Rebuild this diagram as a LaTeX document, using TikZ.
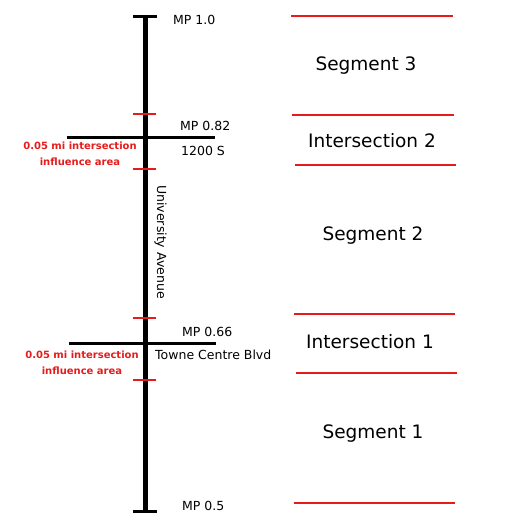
\documentclass[tikz,border=0pt]{standalone}
\usepackage{fontspec}
\setmainfont{DejaVu Sans}
\usetikzlibrary{positioning}
\definecolor{zonered}{RGB}{230,28,28}

\begin{document}
\begin{tikzpicture}[x=1pt, y=-1pt,
    road/.style={line width=3pt},
    zonetick/.style={zonered, line width=2.8pt},
    segline/.style={zonered, line width=2.2pt},
    mplabel/.style={font=\fontsize{12.5}{15}\selectfont, inner sep=0pt, anchor=west},
    zonelabel/.style={zonered, font=\bfseries\fontsize{10}{16}\selectfont, align=center, inner sep=0pt},
    seglabel/.style={font=\fontsize{18.5}{22}\selectfont, inner sep=0pt}]

\useasboundingbox (0,0) rectangle (506,530);

% University Avenue - end points and caps
\coordinate (ave top) at (145,16);
\coordinate (ave bot) at (145,511);
\draw[line width=5pt] (ave top) -- (ave bot);
\draw[road] (133,16) -- (157,16);
\draw[road] (133,511) -- (157,511);

% Cross streets
\coordinate (s1200 w) at (67,137);
\coordinate (s1200 e) at (215,137);
\coordinate (towne w) at (69,343);
\coordinate (towne e) at (216,343);
\draw[road] (s1200 w) -- (s1200 e);
\draw[road] (towne w) -- (towne e);

% Influence area limits (red ticks)
\foreach \y in {114, 169, 318, 380} {
    \draw[zonetick] (133,\y) -- (156,\y);
}

% Milepost and street labels
\node[mplabel] (mp10) at (173,20) {MP 1.0};
\node[mplabel] (mp82) at (180,126) {MP 0.82};
\node[mplabel] (s1200) at (181,151) {1200 S};
\node[mplabel] (mp66) at (182,332) {MP 0.66};
\node[mplabel] (towne) at (155,355) {Towne Centre Blvd};
\node[mplabel] (mp05) at (182,506) {MP 0.5};
\node[mplabel, anchor=center, rotate=-90] (ave) at (160.5,242) {University Avenue};

\node[zonelabel] (zone2) at (80,154) {0.05 mi intersection\\influence area};
\node[zonelabel] (zone1) at (82,363) {0.05 mi intersection\\influence area};

% Segment boundaries (right side)
\foreach \y/\xa/\xb in {16/291/453, 115/292/454, 165/295/456, 314/294/455, 373/296/457, 503/294/455} {
    \draw[segline] (\xa,\y) -- (\xb,\y);
}

\node[seglabel] (seg3) at (366,66) {Segment 3};
\node[seglabel] (int2) at (372,141) {Intersection 2};
\node[seglabel] (seg2) at (373,236) {Segment 2};
\node[seglabel] (int1) at (370,342) {Intersection 1};
\node[seglabel] (seg1) at (373,434) {Segment 1};

\end{tikzpicture}
\end{document}
